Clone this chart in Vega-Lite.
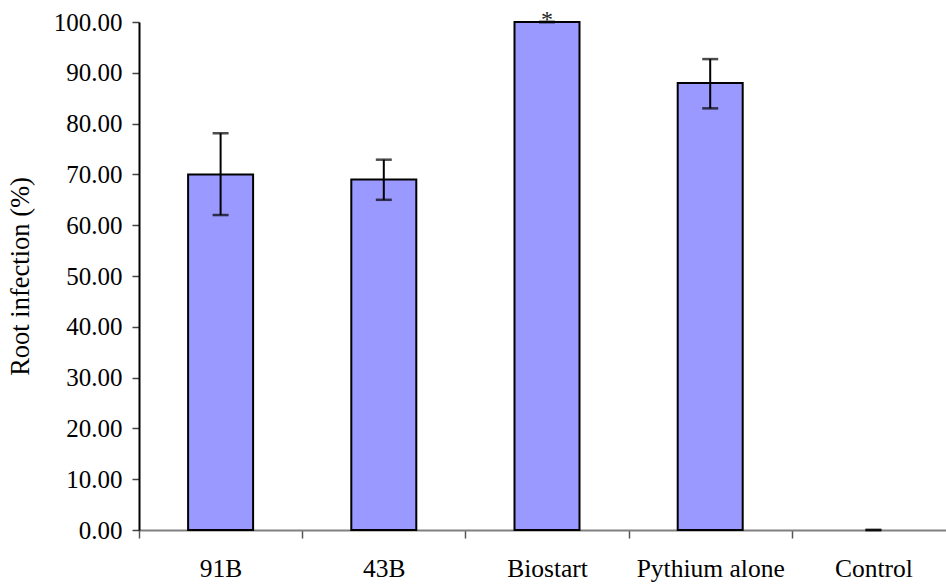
{
  "$schema": "https://vega.github.io/schema/vega-lite/v6.json",
  "autosize": "none",
  "width": 816,
  "height": 508,
  "padding": {"left": 139, "top": 22, "right": 0, "bottom": 56},
  "background": "white",
  "config": {
    "view": {"stroke": null},
    "font": "Liberation Serif",
    "axis": {"grid": false, "labelFont": "Liberation Serif", "titleFont": "Liberation Serif", "labelColor": "black", "titleColor": "black"}
  },
  "data": {
    "values": [
      {"treatment": "91B", "mean": 70.0, "lo": 62.0, "hi": 78.1, "mark": ""},
      {"treatment": "43B", "mean": 69.0, "lo": 65.0, "hi": 72.9, "mark": ""},
      {"treatment": "Biostart", "mean": 100.0, "lo": 100.0, "hi": 100.0, "mark": "*"},
      {"treatment": "Pythium alone", "mean": 88.0, "lo": 83.0, "hi": 92.7, "mark": ""},
      {"treatment": "Control", "mean": 0.0, "lo": 0.0, "hi": 0.0, "mark": ""}
    ]
  },
  "encoding": {
    "x": {
      "field": "treatment",
      "type": "nominal",
      "sort": null,
      "scale": {"paddingInner": 0, "paddingOuter": 0},
      "axis": {
        "title": null,
        "labelAngle": 0,
        "labelFontSize": 25.5,
        "labelPadding": 18,
        "tickBand": "extent",
        "tickSize": 8,
        "tickColor": "#555555",
        "tickWidth": 1.5,
        "domainColor": "#808080",
        "domainWidth": 2
      }
    }
  },
  "layer": [
    {
      "transform": [{"filter": "datum.mean > 0"}],
      "mark": {"type": "bar", "size": 65, "color": "#9999FF", "stroke": "black", "strokeWidth": 2},
      "encoding": {
        "y": {
          "field": "mean",
          "type": "quantitative",
          "scale": {"domain": [0, 100], "nice": false},
          "axis": {
            "title": "Root infection (%)",
            "titleFontSize": 26.5,
            "titleFontWeight": "normal",
            "titlePadding": 19,
            "labelFontSize": 25,
            "labelPadding": 10,
            "format": ".2f",
            "values": [0, 10, 20, 30, 40, 50, 60, 70, 80, 90, 100],
            "tickSize": 7,
            "tickColor": "#444444",
            "tickWidth": 1.5,
            "domainColor": "black",
            "domainWidth": 2
          }
        }
      }
    },
    {
      "mark": {"type": "rule", "color": "black", "strokeWidth": 2},
      "encoding": {
        "y": {"field": "lo", "type": "quantitative"},
        "y2": {"field": "hi"}
      }
    },
    {
      "mark": {"type": "tick", "orient": "horizontal", "color": "black", "size": 16, "thickness": 2.5},
      "encoding": {"y": {"field": "lo", "type": "quantitative"}}
    },
    {
      "mark": {"type": "tick", "orient": "horizontal", "color": "black", "size": 16, "thickness": 2.5},
      "encoding": {"y": {"field": "hi", "type": "quantitative"}}
    },
    {
      "mark": {"type": "text", "fontSize": 24, "baseline": "alphabetic", "dy": 5, "color": "#222222"},
      "encoding": {
        "y": {"field": "mean", "type": "quantitative"},
        "text": {"field": "mark"}
      }
    }
  ]
}
